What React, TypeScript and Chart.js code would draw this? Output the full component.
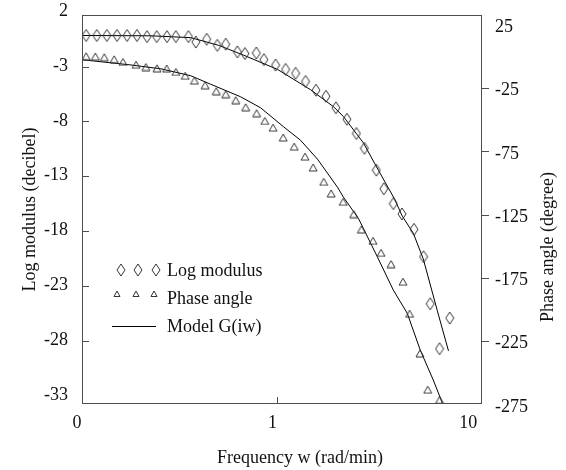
import { useEffect, useRef } from 'react';
import { Chart, registerables } from 'chart.js';
Chart.register(...registerables);

// ---- data ----
const modFreq = [0.105, 0.119, 0.134, 0.151, 0.170, 0.191, 0.215, 0.241, 0.272, 0.302, 0.350, 0.382, 0.434, 0.492, 0.543, 0.623, 0.681, 0.779, 0.851, 0.977, 1.099, 1.236, 1.390, 1.572, 1.768, 1.988, 2.263, 2.530, 2.779, 3.200, 3.494, 3.907, 4.327, 4.983, 5.578, 6.034, 6.731, 7.588];
const modDb = [-0.1, -0.1, -0.1, -0.1, -0.1, -0.1, -0.2, -0.2, -0.2, -0.2, -0.2, -0.7, -0.45, -1.0, -0.9, -1.6, -1.75, -1.7, -2.3, -2.8, -3.2, -3.55, -4.3, -5.1, -5.65, -6.7, -7.75, -9.05, -10.4, -12.4, -14.1, -15.45, -16.4, -17.8, -20.3, -24.6, -28.7, -25.9];

const phaseFreq = [0.105, 0.117, 0.130, 0.146, 0.162, 0.189, 0.212, 0.242, 0.271, 0.302, 0.337, 0.376, 0.426, 0.486, 0.543, 0.611, 0.687, 0.781, 0.860, 0.949, 1.069, 1.217, 1.382, 1.521, 1.722, 1.879, 2.164, 2.451, 2.683, 3.078, 3.381, 3.803, 4.378, 4.732, 5.347, 5.860, 6.731];
const phaseDeg = [0.5, 0.3, -0.3, -1.9, -4.0, -6.2, -8.0, -9.0, -9.2, -11.9, -14.9, -18.7, -22.4, -27.1, -29.5, -34.2, -39.8, -44.5, -50.6, -55.9, -63.7, -70.9, -78.8, -87.4, -98.7, -107.9, -114.5, -124.2, -136.3, -145.3, -154.8, -163.7, -177.6, -202.9, -234.2, -262.9, -271.0];

const modelModFreq = [0.101, 0.225, 0.360, 0.500, 0.671, 1.0, 1.474, 1.931, 2.171, 2.746, 3.276, 3.956, 4.343, 4.942, 5.558, 6.552, 7.482];
const modelModDb = [-0.1, -0.13, -0.3, -1.0, -1.9, -3.2, -5.05, -6.6, -7.5, -9.9, -12.4, -15.0, -16.6, -18.15, -20.5, -25.2, -28.9];

const modelPhaseFreq = [0.101, 0.174, 0.253, 0.360, 0.455, 0.647, 0.819, 1.073, 1.310, 1.600, 2.024, 2.171, 2.591, 3.237, 3.907, 4.606, 5.365, 6.251, 6.990];
const modelPhaseDeg = [-2.3, -6.2, -9.4, -14.9, -21.6, -31.5, -40.2, -55.2, -65.8, -80.8, -102.9, -110.8, -127.6, -157.9, -184.2, -202.6, -231.6, -255.2, -274.2];

const xTicks = [0.1, 1, 10];
const xTickLabels = ['0', '1', '10'];
const leftTicks = [2, -3, -8, -13, -18, -23, -28, -33];
const rightTicks = [25, -25, -75, -125, -175, -225, -275];

const xTitle = 'Frequency w (rad/min)';
const leftTitle = 'Log modulus (decibel)';
const rightTitle = 'Phase angle (degree)';
const legendLabels = ['Log modulus', 'Phase angle', 'Model G(iw)'];

const FONT = '"Liberation Serif", "Times New Roman", serif';
const FRAME = '#4d4d4d';
const MARK = '#333333';
const TEXT = '#111';

function makeDiamond(): HTMLCanvasElement {
  const c = document.createElement('canvas');
  c.width = 10; c.height = 14;
  const g = c.getContext('2d')!;
  g.strokeStyle = MARK; g.lineWidth = 1;
  g.beginPath();
  g.moveTo(5, 1); g.lineTo(9, 7); g.lineTo(5, 13); g.lineTo(1, 7); g.closePath();
  g.stroke();
  return c;
}
function makeTriangle(w: number, h: number): HTMLCanvasElement {
  const c = document.createElement('canvas');
  c.width = Math.ceil(w) + 2; c.height = Math.ceil(h) + 2;
  const g = c.getContext('2d')!;
  g.strokeStyle = MARK; g.lineWidth = 1;
  g.beginPath();
  g.moveTo(c.width / 2, 1); g.lineTo(c.width / 2 + w / 2, 1 + h); g.lineTo(c.width / 2 - w / 2, 1 + h); g.closePath();
  g.stroke();
  return c;
}

const noPad = (s: any) => { s.paddingTop = 0; s.paddingBottom = 0; s.paddingLeft = 0; s.paddingRight = 0; };

export default function App() {
  const ref = useRef<HTMLCanvasElement | null>(null);
  useEffect(() => {
    document.body.style.margin = '0';
    const diamond = makeDiamond();
    const tri = makeTriangle(8, 7);
    const triSmall = makeTriangle(6, 5.5);

    const decor = {
      id: 'decor',
      afterDraw(chart: any) {
        const { ctx, chartArea: a } = chart;
        ctx.save();
        ctx.strokeStyle = FRAME; ctx.lineWidth = 1;
        ctx.strokeRect(Math.round(a.left) + 0.5, Math.round(a.top) + 0.5, Math.round(a.right - a.left) - 1, Math.round(a.bottom - a.top) - 1);
        ctx.fillStyle = TEXT;
        ctx.font = '18px ' + FONT;
        ctx.textAlign = 'center'; ctx.textBaseline = 'middle';
        ctx.fillText(xTitle, a.left + 218, a.bottom + 54);
        ctx.save(); ctx.translate(30, (a.top + a.bottom) / 2); ctx.rotate(-Math.PI / 2); ctx.fillText(leftTitle, 0, 0); ctx.restore();
        ctx.save(); ctx.translate(548, a.top + 232); ctx.rotate(-Math.PI / 2); ctx.fillText(rightTitle, 0, 0); ctx.restore();
        // legend
        const lx = a.left, ly = a.top;
        [39, 56, 74].forEach((dx) => ctx.drawImage(diamond, lx + dx - 5, ly + 255 - 7));
        [35, 54, 72].forEach((dx) => ctx.drawImage(triSmall, lx + dx - triSmall.width / 2, ly + 279 - triSmall.height / 2));
        ctx.strokeStyle = '#000'; ctx.lineWidth = 1;
        ctx.beginPath(); ctx.moveTo(lx + 30, ly + 311.5); ctx.lineTo(lx + 74, ly + 311.5); ctx.stroke();
        ctx.textAlign = 'left';
        ctx.fillText(legendLabels[0], lx + 85, ly + 256);
        ctx.fillText(legendLabels[1], lx + 85, ly + 284);
        ctx.fillText(legendLabels[2], lx + 85, ly + 312);
        ctx.restore();
      },
    };

    const tickColor = (hidden: number[]) => (c: any) =>
      c.tick && hidden.includes(c.tick.value) ? 'rgba(0,0,0,0)' : FRAME;

    const chart = new Chart(ref.current!, {
      type: 'scatter',
      data: {
        datasets: [
          {
            label: legendLabels[0],
            data: modFreq.map((x, i) => ({ x, y: modDb[i] })),
            yAxisID: 'y',
            pointStyle: diamond as any,
            pointRadius: 5,
            showLine: false,
          },
          {
            label: legendLabels[1],
            data: phaseFreq.map((x, i) => ({ x, y: phaseDeg[i] })),
            yAxisID: 'y2',
            pointStyle: tri as any,
            pointRadius: 5,
            showLine: false,
          },
          {
            label: legendLabels[2],
            data: modelModFreq.map((x, i) => ({ x, y: modelModDb[i] })),
            yAxisID: 'y',
            showLine: true,
            pointRadius: 0,
            borderColor: '#000',
            borderWidth: 1,
            tension: 0,
          },
          {
            label: legendLabels[2] + ' phase',
            data: modelPhaseFreq.map((x, i) => ({ x, y: modelPhaseDeg[i] })),
            yAxisID: 'y2',
            showLine: true,
            pointRadius: 0,
            borderColor: '#000',
            borderWidth: 1,
            tension: 0,
          },
        ],
      },
      options: {
        animation: false,
        responsive: false,
        events: [],
        layout: { padding: { top: 15, left: 0, right: 0, bottom: 0 } },
        plugins: { legend: { display: false }, tooltip: { enabled: false } },
        scales: {
          x: {
            type: 'logarithmic',
            min: 0.1,
            max: 11.1,
            afterBuildTicks: (s: any) => { s.ticks = xTicks.map((v) => ({ value: v })); },
            afterFit: (s: any) => { s.height = 66; noPad(s); },
            ticks: {
              callback: (_v: any, i: number) => xTickLabels[i],
              font: { family: FONT, size: 18 },
              color: TEXT,
              padding: 15,
              labelOffset: -5,
              maxRotation: 0,
              autoSkip: false,
            },
            grid: { drawOnChartArea: false, tickLength: -7, color: tickColor([0.1, 10]) },
            border: { display: false },
          },
          y: {
            type: 'linear',
            position: 'left',
            min: -33.75,
            max: 1.77,
            afterBuildTicks: (s: any) => { s.ticks = leftTicks.map((v) => ({ value: v })); },
            afterFit: (s: any) => { s.width = 82; noPad(s); },
            ticks: {
              callback: (v: any) => String(v),
              font: { family: FONT, size: 18 },
              color: TEXT,
              padding: 21,
              labelOffset: -1,
              autoSkip: false,
            },
            grid: { drawOnChartArea: false, tickLength: -7, color: tickColor([2, -33]) },
            border: { display: false },
          },
          y2: {
            type: 'linear',
            position: 'right',
            min: -274.2,
            max: 33.1,
            afterBuildTicks: (s: any) => { s.ticks = rightTicks.map((v) => ({ value: v })); },
            afterFit: (s: any) => { s.width = 84; noPad(s); },
            ticks: {
              callback: (v: any) => String(v),
              font: { family: FONT, size: 18 },
              color: TEXT,
              padding: 6,
              labelOffset: 2,
              autoSkip: false,
            },
            grid: { drawOnChartArea: false, tickLength: 7, color: tickColor([25, -275]) },
            border: { display: false },
          },
        },
      },
      plugins: [decor],
    } as any);
    return () => chart.destroy();
  }, []);

  return (
    <div style={{ width: 566, height: 470 }}>
      <canvas ref={ref} width={566} height={470} style={{ width: 566, height: 470, display: 'block' }} />
    </div>
  );
}
